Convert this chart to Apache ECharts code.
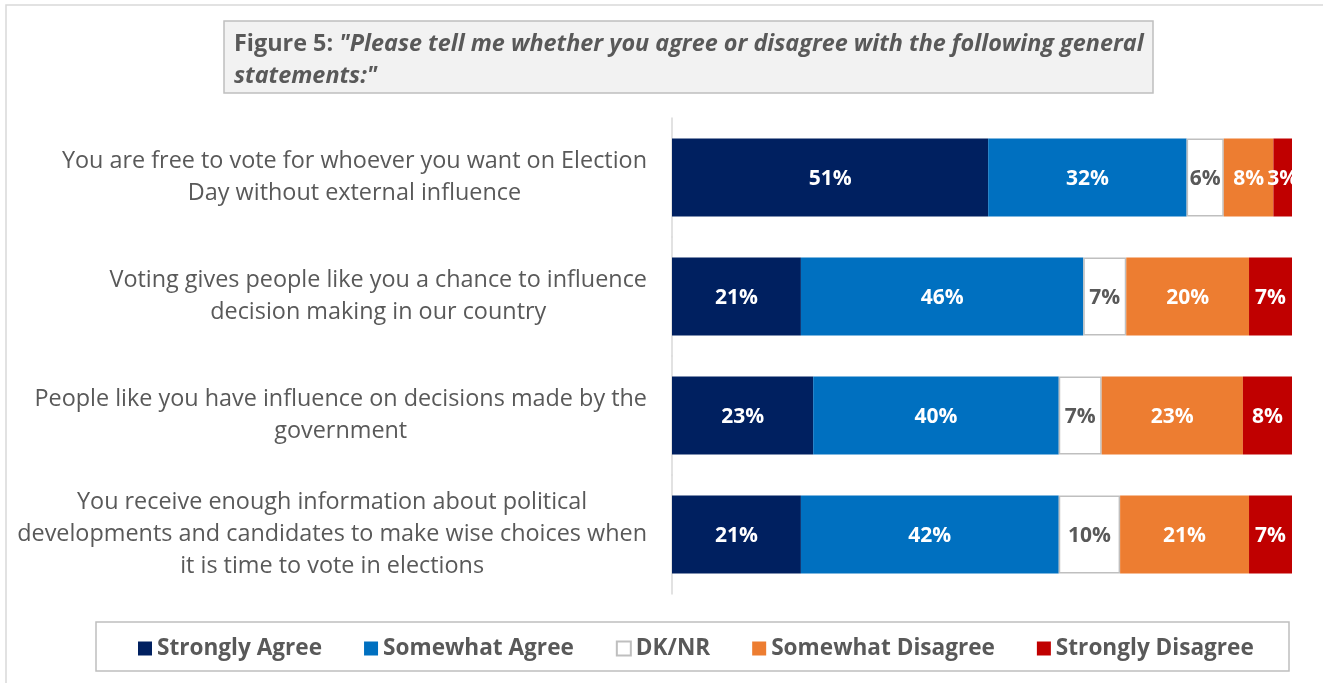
<!DOCTYPE html>
<html>
<head>
<meta charset="utf-8">
<script src="https://cdn.jsdelivr.net/npm/echarts@6/dist/echarts.min.js"></script>
<style>
  html, body { margin: 0; padding: 0; background: #ffffff; }
  #chart { width: 1323px; height: 683px; }
</style>
</head>
<body>
<div id="chart"></div>
<script>
// Survey statements (top to bottom)
const categories = [
  "You are free to vote for whoever you want on Election\nDay without external influence",
  "Voting gives people like you a chance to influence\ndecision making in our country",
  "People like you have influence on decisions made by the\ngovernment",
  "You receive enough information about political\ndevelopments and candidates to make wise choices when\nit is time to vote in elections"
];

// Response options
const seriesNames = ["Strongly Agree", "Somewhat Agree", "DK/NR", "Somewhat Disagree", "Strongly Disagree"];

// Percentages per statement
const stronglyAgree    = [51, 21, 23, 21];
const somewhatAgree    = [32, 46, 40, 42];
const dkNr             = [6, 7, 7, 10];
const somewhatDisagree = [8, 20, 23, 21];
const stronglyDisagree = [3, 7, 8, 7];

const seriesValues = [stronglyAgree, somewhatAgree, dkNr, somewhatDisagree, stronglyDisagree];
const seriesColors = ["#002060", "#0070C0", "#ffffff", "#ED7D31", "#C00000"];

const FONT = "Open Sans";
const TEXT_GRAY = "#595959";

const chart = echarts.init(document.getElementById("chart"), null, { renderer: "canvas" });

// One grid per statement so each row fills the full width (100% stacked)
const ROW_TOP = 118, ROW_H = 119;
const grids = [], xAxes = [], yAxes = [], series = [];
categories.forEach((cat, i) => {
  const rowTotal = seriesValues.reduce((s, arr) => s + arr[i], 0);
  grids.push({ left: 672, right: 31, top: ROW_TOP + i * ROW_H, height: ROW_H, containLabel: false });
  xAxes.push({ gridIndex: i, type: "value", min: 0, max: rowTotal, show: false });
  yAxes.push({
    gridIndex: i,
    type: "category",
    data: [cat],
    axisLine: { show: true, lineStyle: { color: "#d9d9d9", width: 1.5 } },
    axisTick: { show: false },
    axisLabel: {
      margin: 25,
      align: "right",
      color: TEXT_GRAY,
      fontFamily: FONT,
      fontSize: 23.4,
      lineHeight: 32,
      formatter: v => v.split("\n").map(l => "{c|" + l + "}").join("\n"),
      rich: { c: { align: "center", color: TEXT_GRAY, fontFamily: FONT, fontSize: 23.4, lineHeight: 32 } }
    }
  });
  seriesNames.forEach((name, s) => {
    const isDk = name === "DK/NR";
    series.push({
      type: "bar",
      name: name,
      xAxisIndex: i,
      yAxisIndex: i,
      stack: "row" + i,
      barCategoryGap: "34.5%",
      data: [seriesValues[s][i]],
      itemStyle: {
        color: seriesColors[s],
        borderColor: isDk ? "#bfbfbf" : seriesColors[s],
        borderWidth: isDk ? 1.5 : 0
      },
      label: {
        show: true,
        position: "inside",
        offset: [0, 2],
        formatter: "{c}%",
        color: isDk ? TEXT_GRAY : "#ffffff",
        fontFamily: FONT,
        fontWeight: "bold",
        fontSize: 21
      },
      emphasis: { disabled: true }
    });
  });
});

chart.setOption({
  animation: false,
  backgroundColor: "#ffffff",
  title: {
    left: 234,
    top: 28,
    padding: 0,
    text: '{a|Figure 5: }{b|"Please tell me whether you agree or disagree with the following general}\n{b|statements:"}',
    textStyle: {
      rich: {
        a: { fontFamily: FONT, fontWeight: "bold", fontSize: 23.4, color: TEXT_GRAY, lineHeight: 32 },
        b: { fontFamily: FONT, fontWeight: "bold", fontStyle: "italic", fontSize: 23.4, color: TEXT_GRAY, lineHeight: 32 }
      }
    },
    z: 10
  },
  legend: {
    left: 138,
    top: 637,
    padding: 0,
    itemGap: 42,
    itemWidth: 14,
    itemHeight: 14,
    icon: "rect",
    selectedMode: false,
    data: seriesNames,
    textStyle: { fontFamily: FONT, fontWeight: "bold", fontSize: 22.6, color: TEXT_GRAY },
    z: 10
  },
  graphic: [
    { type: "rect", z: 0, silent: true, shape: { x: 6, y: 5, width: 1340, height: 700 },
      style: { fill: "none", stroke: "#d9d9d9", lineWidth: 1.5 } },
    { type: "rect", z: 1, silent: true, shape: { x: 224, y: 21, width: 929, height: 72 },
      style: { fill: "#f2f2f2", stroke: "#bfbfbf", lineWidth: 1.5 } },
    { type: "rect", z: 1, silent: true, shape: { x: 96, y: 622, width: 1193, height: 49 },
      style: { fill: "#ffffff", stroke: "#bfbfbf", lineWidth: 1.5 } }
  ],
  grid: grids,
  xAxis: xAxes,
  yAxis: yAxes,
  series: series
});
</script>
</body>
</html>
